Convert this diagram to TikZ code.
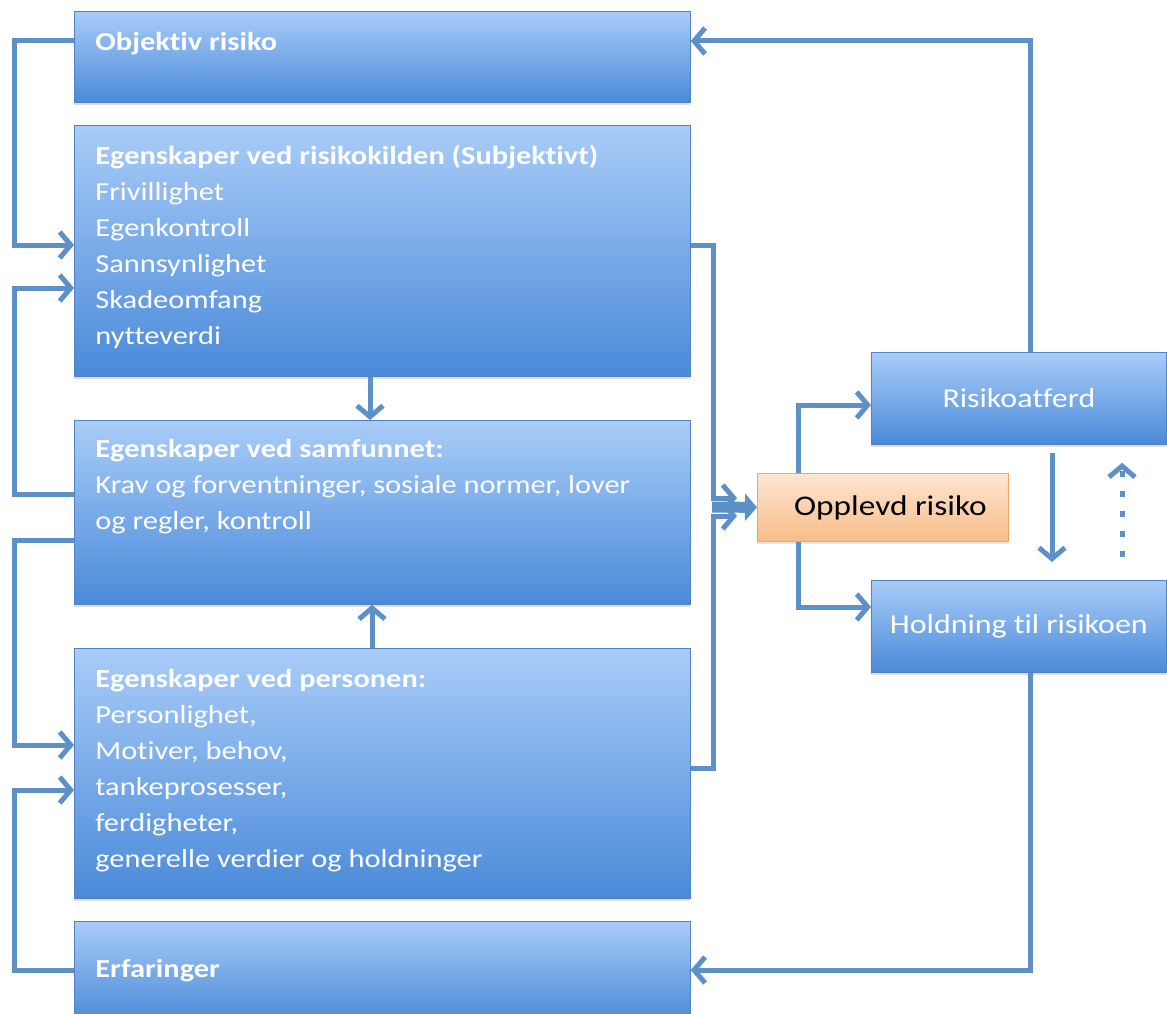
\documentclass[tikz,border=0pt]{standalone}
\usepackage{fontspec}
\setmainfont{Carlito}[FakeStretch=1.17, Ligatures=NoCommon]
\usetikzlibrary{arrows.meta,shadows}
\definecolor{bxtop}{HTML}{A9CCF8}
\definecolor{bxbot}{HTML}{4A8AD9}
\definecolor{bxline}{HTML}{5282C2}
\definecolor{conncol}{HTML}{5E90C8}
\definecolor{ortop}{HTML}{FDE6D3}
\definecolor{orbot}{HTML}{F9BD88}
\definecolor{orline}{HTML}{F0A565}
\newcommand\boxfont{\fontsize{26}{36}\selectfont}
\newcommand\rboxfont{\fontsize{27.3}{36}\selectfont}
\newcommand\oboxfont{\fontsize{28.5}{36}\selectfont}
\newcommand\lbtext[3]{\parbox[c][#1][t]{616pt}{\boxfont\raggedright\leftskip=21pt\relax\rule{0pt}{#2}#3}}
\tikzset{
  bluebox/.style={draw=bxline, line width=0.8pt, top color=bxtop, bottom color=bxbot,
    inner sep=0pt, text=white, drop shadow={shadow xshift=0pt, shadow yshift=-3pt, opacity=0.25}},
  leftbox/.style={bluebox, anchor=north west},
  rightbox/.style={bluebox, anchor=north west, minimum width=295pt, minimum height=92pt, font=\rboxfont},
  orangebox/.style={draw=orline, line width=0.8pt, top color=ortop, bottom color=orbot,
    inner sep=0pt, anchor=north west, minimum width=251pt, minimum height=68pt, font=\oboxfont,
    drop shadow={shadow xshift=0pt, shadow yshift=-3pt, opacity=0.2}},
  conn/.style={draw=conncol, line width=5pt, line join=miter},
  arr/.style={conn, -{Straight Barb[length=11pt, width=26pt]}},
  fatarr/.style={draw=conncol, line width=11pt, -{Triangle[length=12pt, width=27pt]}},
}
\begin{document}
\begin{tikzpicture}[x=1pt,y=-1pt]
\useasboundingbox (0,0) rectangle (1167,1014);
% left column boxes
\node[leftbox] (obj) at (74,11) {\lbtext{91pt}{39pt}{\textbf{Objektiv risiko}}};
\node[leftbox] (src) at (74,125) {\lbtext{251pt}{39pt}{\textbf{Egenskaper ved risikokilden (Subjektivt)}\\
Frivillighet\\ Egenkontroll\\ Sannsynlighet\\ Skadeomfang\\ nytteverdi}};
\node[leftbox] (soc) at (74,420) {\lbtext{184pt}{37pt}{\textbf{Egenskaper ved samfunnet:}\\
Krav og forventninger, sosiale normer, lover\\ og regler, kontroll}};
\node[leftbox] (per) at (74,648) {\lbtext{250pt}{39pt}{\textbf{Egenskaper ved personen:}\\
Personlighet,\\ Motiver, behov,\\ tankeprosesser,\\ ferdigheter,\\ generelle verdier og holdninger}};
\node[leftbox] (erf) at (74,921) {\lbtext{100pt}{56pt}{\textbf{Erfaringer}}};
% middle / right
\node[orangebox] (opp) at (757,473) {\hspace*{15pt}Opplevd risiko};
\node[rightbox] (risk) at (871,352) {Risikoatferd};
\node[rightbox] (hold) at (871,580) {Holdning til risikoen};
% helper coordinates
\coordinate (busT) at (713,498);
\coordinate (busB) at (713,516);
\coordinate (inA) at (737,498);
\coordinate (inB) at (737,516);
\coordinate (fork) at (712,507);
% left feedback loops
\draw[arr] ([yshift=-30pt]obj.north west) -- ++(-60,0) |- ([yshift=-120pt]src.north west);
\draw[arr] ([yshift=-74pt]soc.north west) -- ++(-60,0) |- ([yshift=-163pt]src.north west);
\draw[arr] ([yshift=-120pt]soc.north west) -- ++(-60,0) |- ([yshift=-97pt]per.north west);
\draw[arr] ([yshift=-49pt]erf.north west) -- ++(-60,0) |- ([yshift=-142pt]per.north west);
% vertical arrows between left boxes
\draw[arr] ([xshift=296pt]src.south west) -- ([xshift=296pt]soc.north west);
\draw[arr] ([xshift=298pt]per.north west) -- ([xshift=298pt]soc.south west);
% into Opplevd risiko
\draw[arr] ([yshift=-120pt]src.north east) -| (busT) -- (inA);
\draw[arr] ([yshift=-120pt]per.north east) -| (busB) -- (inB);
\draw[fatarr] (fork) -- (opp.west);
% out of Opplevd risiko
\draw[arr] ([xshift=41pt]opp.north west) |- ([yshift=-53pt]risk.north west);
\draw[arr] ([xshift=41pt]opp.south west) |- ([yshift=-27pt]hold.north west);
% right feedback loops
\draw[arr] ([xshift=159pt]risk.north west) |- ([yshift=-30pt]obj.north east);
\draw[arr] ([xshift=159pt]hold.south west) |- ([yshift=-49pt]erf.north east);
% between right boxes
\draw[arr, shorten <=8pt, shorten >=18pt] ([xshift=181pt]risk.south west) -- ([xshift=181pt]hold.north west);
\draw[conn, dash pattern=on 6pt off 14pt, shorten <=23pt, shorten >=18pt, -{Straight Barb[length=11pt, width=26pt]}]
  ([xshift=251pt]hold.north west) -- ([xshift=251pt]risk.south west);
\end{tikzpicture}
\end{document}
